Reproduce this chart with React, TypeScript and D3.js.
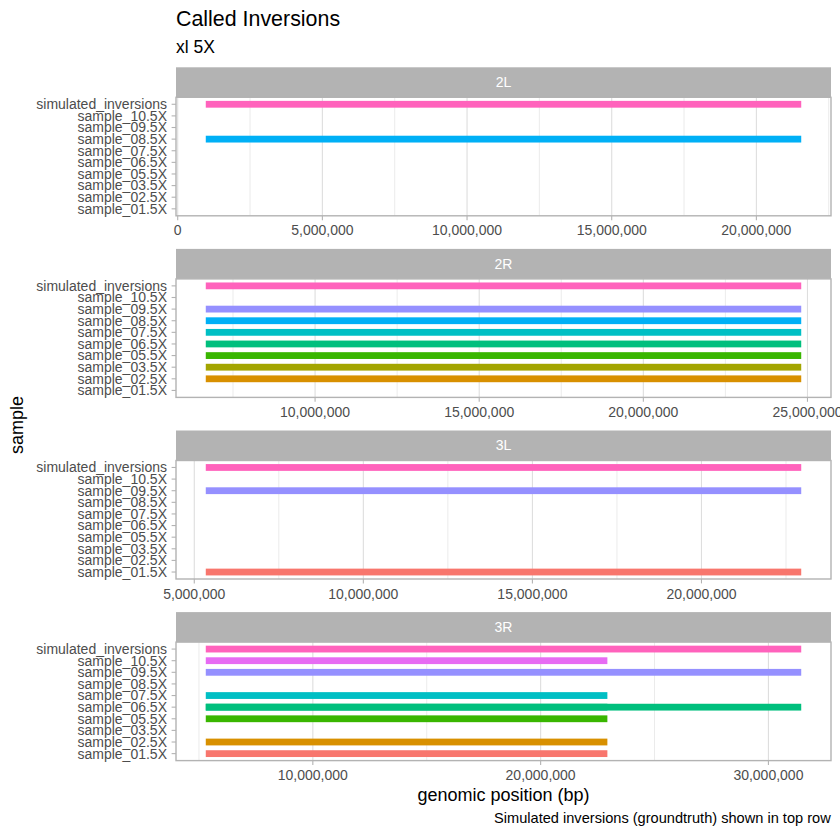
import React from "react";
import * as d3 from "d3";

// ---- data ----
const chromosomes = ["2L", "2R", "3L", "3R"];
const sampleLevels = [
  "sample_01.5X", "sample_02.5X", "sample_03.5X", "sample_05.5X", "sample_06.5X",
  "sample_07.5X", "sample_08.5X", "sample_09.5X", "sample_10.5X", "simulated_inversions",
];
const sampleColors = [
  "#F8766D", "#D89000", "#A3A500", "#39B600", "#00BF7D",
  "#00BFC4", "#00B0F6", "#9590FF", "#E76BF3", "#FF62BC",
];
const segChrom = [
  "2L", "2L",
  "2R", "2R", "2R", "2R", "2R", "2R", "2R", "2R",
  "3L", "3L", "3L",
  "3R", "3R", "3R", "3R", "3R", "3R", "3R", "3R", "3R",
];
const segSample = [
  "simulated_inversions", "sample_08.5X",
  "simulated_inversions", "sample_09.5X", "sample_08.5X", "sample_07.5X", "sample_06.5X", "sample_05.5X", "sample_03.5X", "sample_02.5X",
  "simulated_inversions", "sample_09.5X", "sample_01.5X",
  "simulated_inversions", "sample_10.5X", "sample_09.5X", "sample_07.5X", "sample_06.5X", "sample_06.5X", "sample_05.5X", "sample_02.5X", "sample_01.5X",
];
const segStart = [
  970000, 970000,
  6670000, 6670000, 6670000, 6670000, 6670000, 6670000, 6670000, 6670000,
  5340000, 5340000, 5340000,
  5300000, 5300000, 5300000, 5300000, 5300000, 5300000, 5300000, 5300000, 5300000,
];
const segEnd = [
  21550000, 21550000,
  24810000, 24810000, 24810000, 24810000, 24810000, 24810000, 24810000, 24810000,
  22950000, 22950000, 22950000,
  31440000, 22930000, 31440000, 22930000, 31440000, 22930000, 22930000, 22930000, 22930000,
];
const majorTicks: Record<string, number[]> = {
  "2L": [0, 5000000, 10000000, 15000000, 20000000],
  "2R": [10000000, 15000000, 20000000, 25000000],
  "3L": [5000000, 10000000, 15000000, 20000000],
  "3R": [10000000, 20000000, 30000000],
};
const minorTicks: Record<string, number[]> = {
  "2L": [2500000, 7500000, 12500000, 17500000, 22500000],
  "2R": [7500000, 12500000, 17500000, 22500000],
  "3L": [7500000, 12500000, 17500000, 22500000],
  "3R": [5000000, 15000000, 25000000],
};
const titleText = "Called Inversions";
const subtitleText = "xl 5X";
const xTitle = "genomic position (bp)";
const yTitle = "sample";
const captionText = "Simulated inversions (groundtruth) shown in top row";

// ---- layout ----
const W = 840, H = 840;
const panelLeft = 176, panelRight = 831;
const firstStripTop = 67.3, panelStep = 181.6, stripH = 30, panelH = 118.5;
const font = "'Liberation Sans', Arial, Helvetica, sans-serif";
const grey70 = "#B3B3B3", grey87 = "#DEDEDE", grey30 = "#4D4D4D";

const fmt = d3.format(",");
const color = d3.scaleOrdinal<string, string>().domain(sampleLevels).range(sampleColors);

export default function App() {
  const segs = segChrom.map((c, i) => ({ chrom: c, sample: segSample[i], start: segStart[i], end: segEnd[i] }));
  const yOrder = [...sampleLevels].reverse();
  return (
    <svg width={W} height={H} style={{ position: "absolute", left: 0, top: 0, background: "#fff" }} fontFamily={font}>
      <rect x={0} y={0} width={W} height={H} fill="#fff" />
      <text x={176} y={25.7} fontSize={21.4} fill="#000">{titleText}</text>
      <text x={176} y={52.7} fontSize={17.5} fill="#000">{subtitleText}</text>
      {chromosomes.map((chrom, pi) => {
        const stripTop = firstStripTop + pi * panelStep;
        const top = stripTop + stripH;
        const bottom = top + panelH;
        const data = segs.filter((s) => s.chrom === chrom);
        const lo = d3.min(data, (d) => d.start) as number;
        const hi = d3.max(data, (d) => d.end) as number;
        const pad = (hi - lo) * 0.05;
        const x = d3.scaleLinear().domain([lo - pad, hi + pad]).range([panelLeft, panelRight]);
        const y = d3.scalePoint<string>().domain(yOrder).range([top, bottom]).padding(0.6);
        return (
          <g key={chrom}>
            <rect x={panelLeft} y={stripTop} width={panelRight - panelLeft} height={stripH} fill={grey70} />
            <text x={(panelLeft + panelRight) / 2} y={stripTop + stripH / 2} dy="0.35em" textAnchor="middle" fontSize={14} fill="#fff">{chrom}</text>
            {minorTicks[chrom].map((t) => (
              <line key={"mi" + t} x1={x(t)} x2={x(t)} y1={top} y2={bottom} stroke={grey87} strokeWidth={0.6} />
            ))}
            {majorTicks[chrom].map((t) => (
              <line key={"ma" + t} x1={x(t)} x2={x(t)} y1={top} y2={bottom} stroke={grey87} strokeWidth={1.1} />
            ))}
            {data.map((d, i) => (
              <rect key={i} x={x(d.start)} y={(y(d.sample) as number) - 3.4} width={x(d.end) - x(d.start)} height={6.8} fill={color(d.sample)} />
            ))}
            <rect x={panelLeft} y={top} width={panelRight - panelLeft} height={panelH} fill="none" stroke={grey70} strokeWidth={1.4} />
            {yOrder.map((s) => (
              <g key={s}>
                <line x1={panelLeft - 4.4} x2={panelLeft} y1={y(s)} y2={y(s)} stroke={grey70} strokeWidth={1.1} />
                <text x={panelLeft - 9} y={y(s)} dy="0.35em" textAnchor="end" fontSize={14} fill={grey30}>{s}</text>
              </g>
            ))}
            {majorTicks[chrom].map((t) => (
              <g key={"xt" + t}>
                <line x1={x(t)} x2={x(t)} y1={bottom} y2={bottom + 4.4} stroke={grey70} strokeWidth={1.1} />
                <text x={x(t)} y={bottom + 19.5} textAnchor="middle" fontSize={14} fill={grey30}>{fmt(t)}</text>
              </g>
            ))}
          </g>
        );
      })}
      <text x={(panelLeft + panelRight) / 2} y={801} textAnchor="middle" fontSize={18} fill="#000">{xTitle}</text>
      <text transform="translate(23,425) rotate(-90)" textAnchor="middle" fontSize={18} fill="#000">{yTitle}</text>
      <text x={830.7} y={822.7} textAnchor="end" fontSize={14.6} fill="#000">{captionText}</text>
    </svg>
  );
}
